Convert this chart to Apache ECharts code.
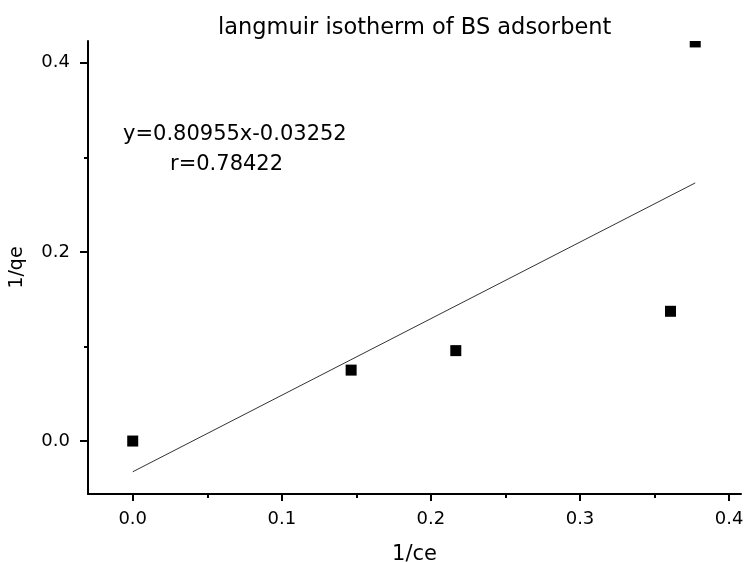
<!DOCTYPE html>
<html>
<head>
<meta charset="utf-8">
<script src="https://cdn.jsdelivr.net/npm/echarts@6/dist/echarts.min.js"></script>
<style>
  html, body { margin: 0; padding: 0; background: #fff; }
  #chart { width: 744px; height: 562px; }
</style>
</head>
<body>
<div id="chart"></div>
<script>
// Langmuir linearisation: 1/qe against 1/ce
const invCe = [0, 0.1465, 0.2167, 0.3607, 0.3773];
const invQe = [0, 0.075, 0.0956, 0.1372, 0.422];

// Linear fit reported on the plot
const fitSlope = 0.80955;
const fitIntercept = -0.03252;
const fitR = 0.78422;

const xMajorTicks = [0, 0.1, 0.2, 0.3, 0.4];
const xMinorTicks = [0.05, 0.15, 0.25, 0.35];
const yMajorTicks = [0, 0.2, 0.4];
const yMinorTicks = [0.1, 0.3];

const FONT = 'DejaVu Sans';

const points = invCe.map((x, i) => [x, invQe[i]]);
const xFitEnd = Math.max(...invCe);
const fitLine = [
  [0, fitIntercept],
  [xFitEnd, fitSlope * xFitEnd + fitIntercept]
];

const fmt = v => Number(v).toFixed(1);

const chart = echarts.init(document.getElementById('chart'));

const axisCommon = {
  type: 'value',
  splitLine: { show: false },
  axisLine: { show: true, onZero: false, lineStyle: { color: '#000', width: 2 } },
  axisLabel: { color: '#000', fontFamily: FONT, fontSize: 18, formatter: fmt },
  axisTick: { show: true, lineStyle: { color: '#000', width: 2 } }
};

// Minor tick rows share the grid but draw only short ticks
const minorAxis = (min, max, position, ticks) => ({
  type: 'value', min: min, max: max, position: position,
  splitLine: { show: false },
  axisLine: { show: false, onZero: false },
  axisLabel: { show: false },
  axisTick: { show: true, length: 4, customValues: ticks, lineStyle: { color: '#000', width: 2 } }
});

chart.setOption({
  animation: false,
  backgroundColor: '#fff',
  title: {
    text: 'langmuir isotherm of BS adsorbent',
    left: 213,
    top: 12,
    textStyle: { fontFamily: FONT, fontSize: 22.5, fontWeight: 'normal', color: '#000' }
  },
  grid: { left: 88, right: 3, top: 41, bottom: 68, outerBoundsMode: 'none' },
  xAxis: [
    Object.assign({}, axisCommon, {
      min: -0.03, max: 0.408,
      position: 'bottom',
      name: '1/ce',
      nameLocation: 'middle',
      nameGap: 50,
      nameTextStyle: { fontFamily: FONT, fontSize: 21, color: '#000' },
      axisLabel: Object.assign({}, axisCommon.axisLabel, { margin: 16, customValues: xMajorTicks }),
      axisTick: Object.assign({}, axisCommon.axisTick, { length: 7, customValues: xMajorTicks })
    }),
    minorAxis(-0.03, 0.408, 'bottom', xMinorTicks)
  ],
  yAxis: [
    Object.assign({}, axisCommon, {
      min: -0.056, max: 0.423,
      position: 'left',
      name: '1/qe',
      nameLocation: 'middle',
      nameGap: 61,
      nameTextStyle: { fontFamily: FONT, fontSize: 19, color: '#000' },
      axisLabel: Object.assign({}, axisCommon.axisLabel, { margin: 18, customValues: yMajorTicks }),
      axisTick: Object.assign({}, axisCommon.axisTick, { length: 8, customValues: yMajorTicks })
    }),
    minorAxis(-0.056, 0.423, 'left', yMinorTicks)
  ],
  series: [
    {
      name: 'fit',
      type: 'line',
      data: fitLine,
      showSymbol: false,
      symbol: 'none',
      lineStyle: { color: '#333', width: 1 },
      silent: true
    },
    {
      name: 'data',
      type: 'custom',
      data: points,
      clip: true,
      renderItem: function (params, api) {
        const p = api.coord([api.value(0), api.value(1)]);
        const s = 11;
        return {
          type: 'rect',
          shape: { x: p[0] - s / 2, y: p[1] - s / 2, width: s, height: s },
          style: { fill: '#000' }
        };
      }
    }
  ],
  graphic: [
    {
      type: 'text', left: 123, top: 124,
      style: { text: 'y=' + fitSlope.toFixed(5) + 'x' + fitIntercept.toFixed(5), font: '21px "DejaVu Sans"', fill: '#000' }
    },
    {
      type: 'text', left: 170, top: 154,
      style: { text: 'r=' + fitR.toFixed(5), font: '21px "DejaVu Sans"', fill: '#000' }
    }
  ]
});
</script>
</body>
</html>
